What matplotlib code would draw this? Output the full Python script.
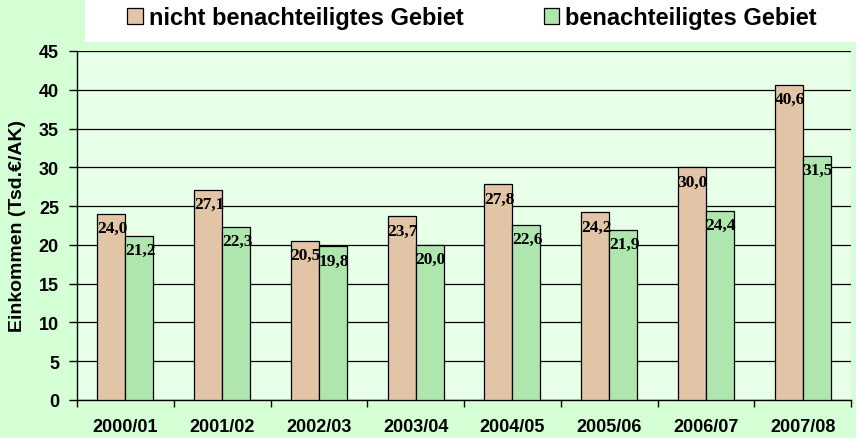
import numpy as np
import matplotlib.pyplot as plt
from matplotlib.patches import Rectangle

years = ["2000/01", "2001/02", "2002/03", "2003/04", "2004/05", "2005/06", "2006/07", "2007/08"]
nicht_benacht = [24.0, 27.1, 20.5, 23.7, 27.8, 24.2, 30.0, 40.6]
benacht = [21.2, 22.3, 19.8, 20.0, 22.6, 21.9, 24.4, 31.5]

tan = "#E2C4A6"
green = "#AEE6AE"

plt.rcParams['font.family'] = ['Liberation Sans', 'DejaVu Sans']
plt.rcParams['font.weight'] = 'bold'

fig = plt.figure(figsize=(8.56, 4.39), dpi=100, facecolor="#D5FFD5")
ax = fig.add_axes([77 / 856, 1 - 401 / 439, (851 - 77) / 856, (401 - 52) / 439])
ax.set_facecolor("#E8FFE8")

# white band behind the legend
fig.patches.append(Rectangle((85 / 856, 1 - 43 / 439), 1, 43 / 439,
                             transform=fig.transFigure, facecolor="white",
                             edgecolor="none", zorder=0))

x = np.arange(len(years))
w = 0.29
b1 = ax.bar(x - w / 2, nicht_benacht, w, color=tan, edgecolor="black", linewidth=0.9,
            label="nicht benachteiligtes Gebiet", zorder=3)
b2 = ax.bar(x + w / 2, benacht, w, color=green, edgecolor="black", linewidth=0.9,
            label="benachteiligtes Gebiet", zorder=3)

for bars, vals in [(b1, nicht_benacht), (b2, benacht)]:
    for r, v in zip(bars, vals):
        ax.text(r.get_x() + r.get_width() / 2 + 0.01, v - 0.8, f"{v:.1f}".replace(".", ","),
                ha="center", va="top", fontsize=12.5, fontweight="bold",
                family=["Liberation Serif", "DejaVu Serif"], zorder=4)

ax.set_xlim(-0.5, len(years) - 0.5)
ax.set_ylim(0, 45)
ax.set_yticks(range(0, 46, 5))
ax.yaxis.grid(True, color="black", linewidth=0.9, zorder=1)
ax.set_xticks(x)
ax.set_xticklabels(years, fontweight="bold", fontsize=13)
ax.set_xticks(np.arange(-0.5, len(years), 1), minor=True)
ax.tick_params(axis="x", which="major", length=0, pad=13)
ax.tick_params(axis="x", which="minor", length=5, width=1)
ax.tick_params(axis="y", length=6, width=1, labelsize=13, pad=7)
for lab in ax.get_yticklabels():
    lab.set_fontweight("bold")
for s in ax.spines.values():
    s.set_linewidth(1)
ax.spines["top"].set_visible(False)
ax.spines["right"].set_visible(False)
ax.set_ylabel("Einkommen (Tsd.€/AK)", fontsize=14, fontweight="bold", labelpad=9)

leg = fig.legend(handles=[b1, b2], loc="upper left", bbox_to_anchor=(118 / 856, 1 + 2 / 439),
                 ncol=2, frameon=False, prop={"weight": "bold", "size": 17},
                 borderaxespad=0,
                 handlelength=0.65, handleheight=0.65, handletextpad=0.25, columnspacing=3.4)
for t in leg.get_texts():
    t.set_fontweight("bold")

fig.savefig("out.png", dpi=100, facecolor=fig.get_facecolor())
